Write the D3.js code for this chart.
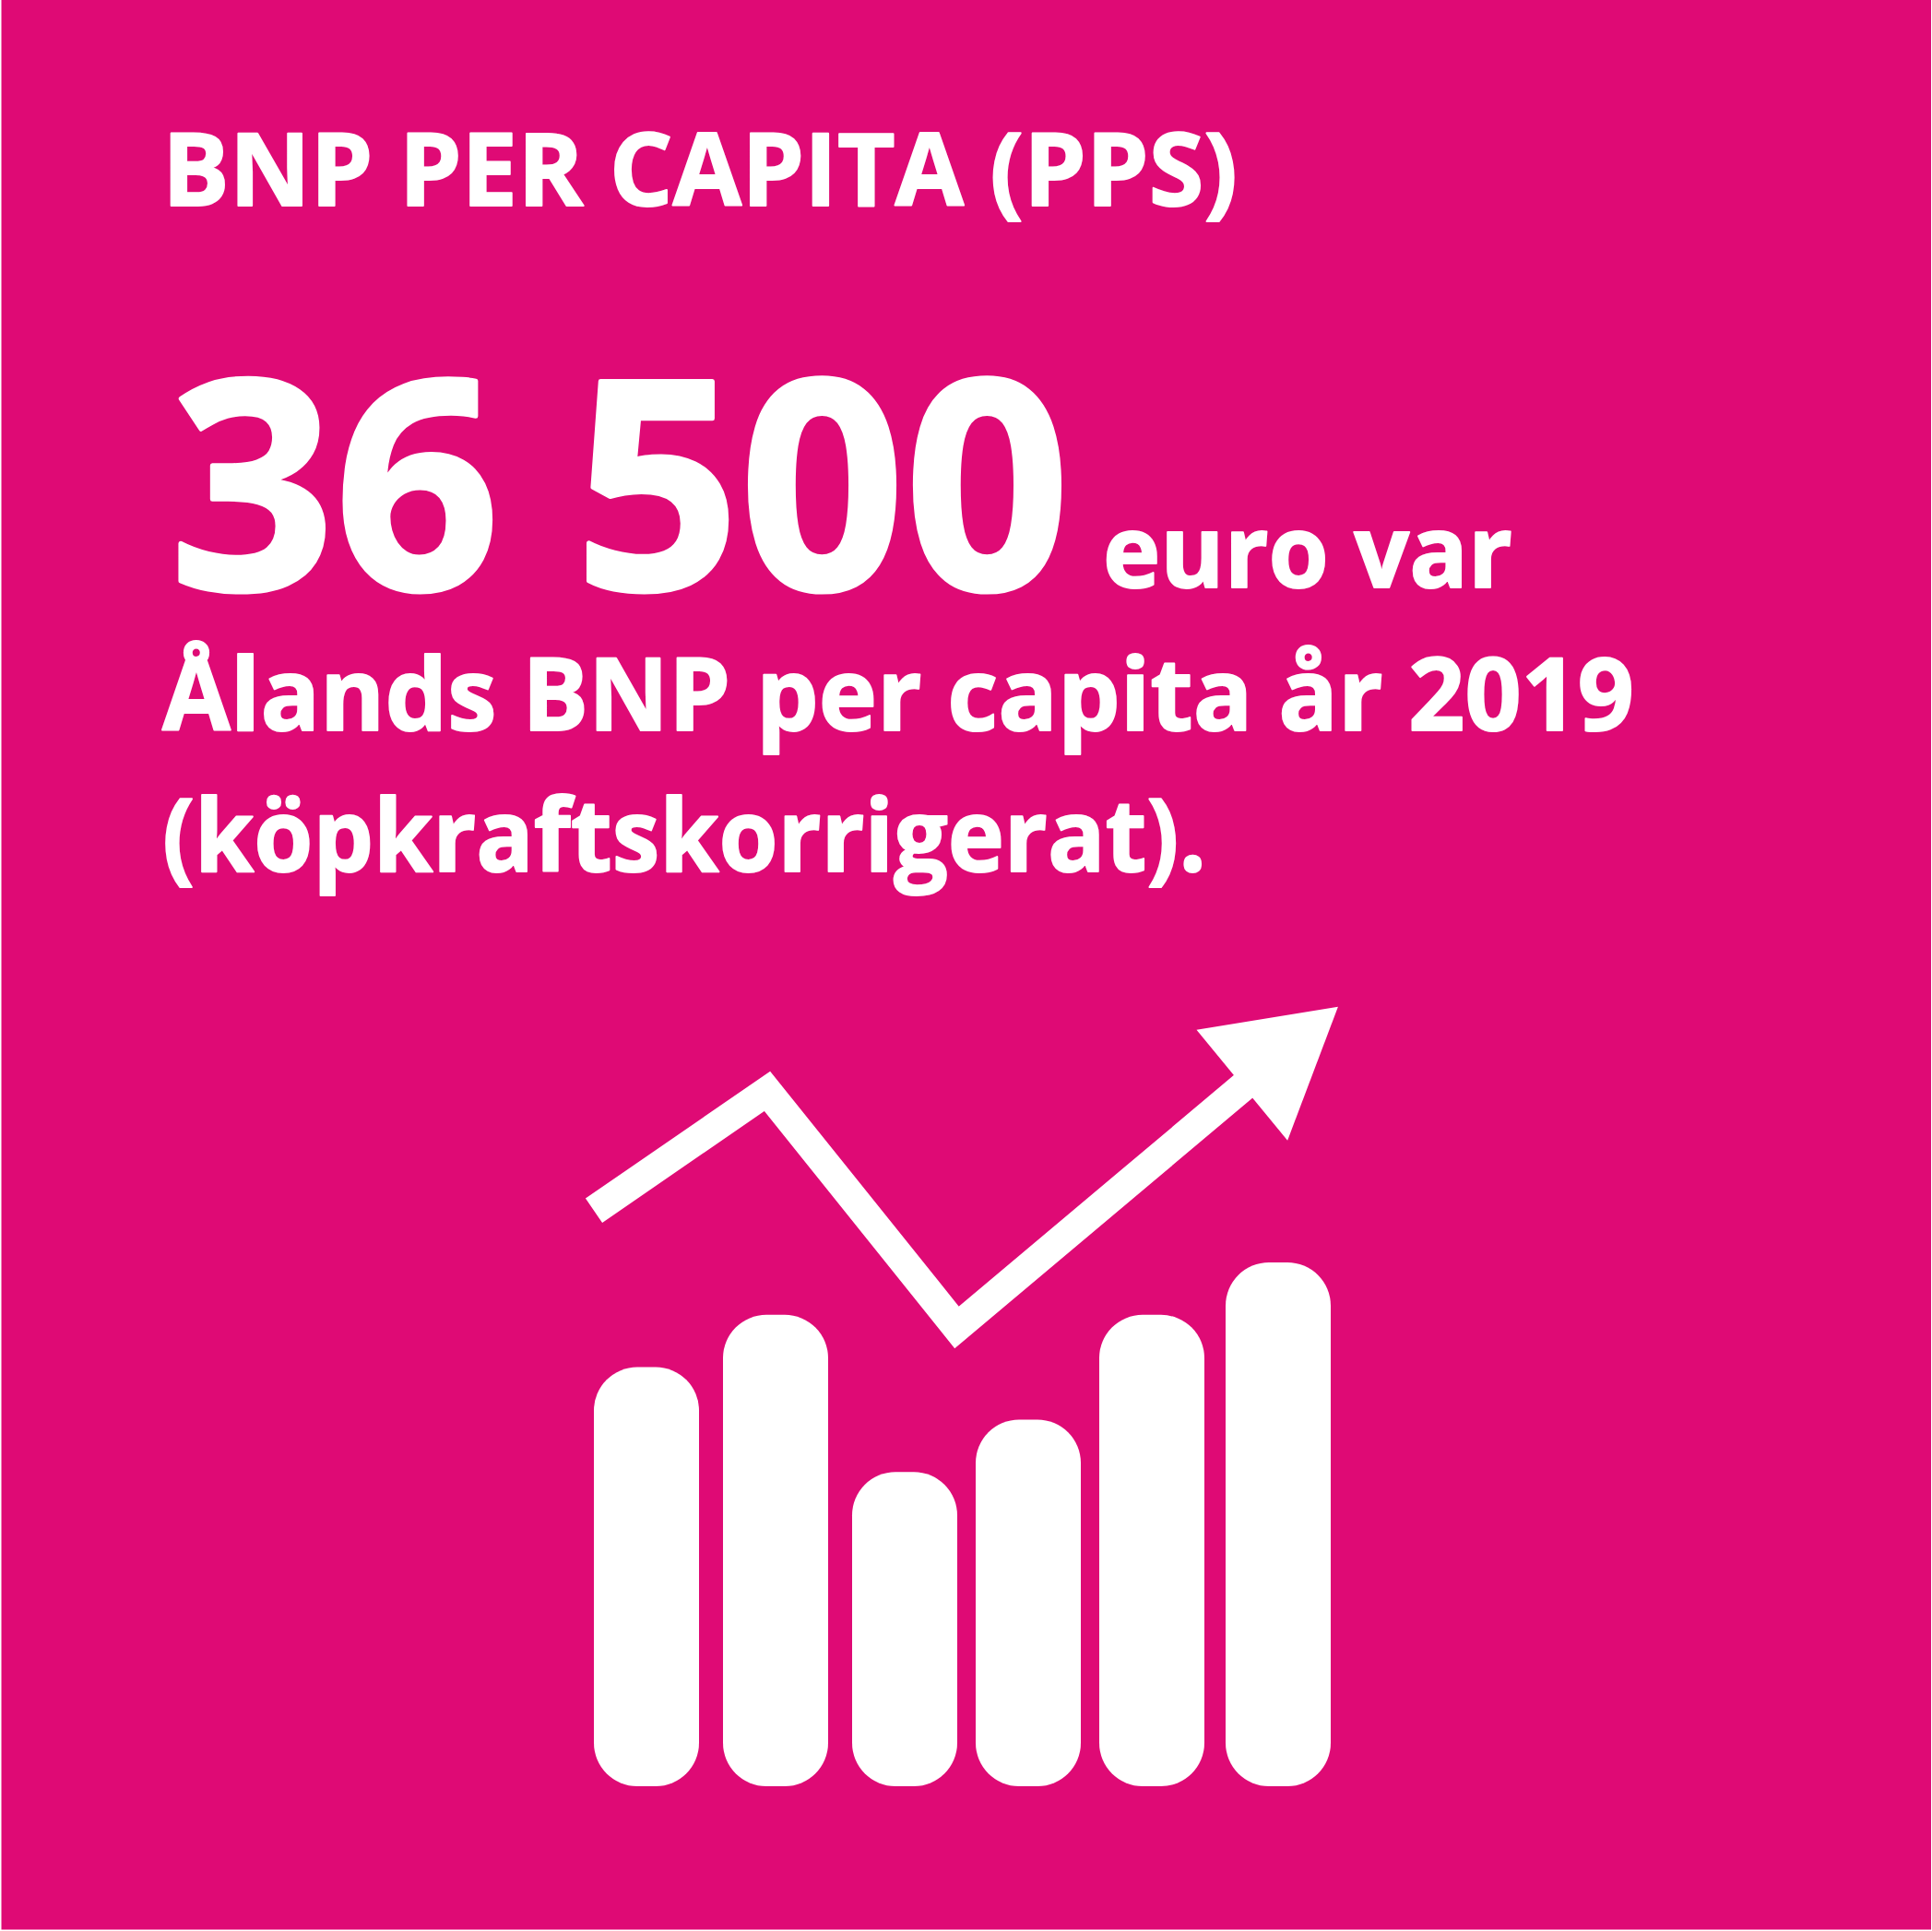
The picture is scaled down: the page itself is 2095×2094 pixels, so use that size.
<!DOCTYPE html>
<html>
<head>
<meta charset="utf-8">
<script src="https://cdn.jsdelivr.net/npm/d3@7"></script>
<style>
  html, body { margin: 0; padding: 0; background: #fff; }
  svg { display: block; }
  text { font-family: "Open Sans", Lato, sans-serif; font-weight: 700; fill: #fff; stroke: #fff; stroke-linejoin: round; }
</style>
</head>
<body>
<script>
const w = 2095;
const h = 2094;
const pink = '#df0a75';

// bars of the icon
const barValues = [8, 9, 6, 7, 9, 10];

// trend line and arrow head, same units as the bars (x = bar number)
const trendX = [0, 1.372, 2.872, 5.2];
const trendY = [10.99, 13.27, 8.76, 13.48];
const arrowX = [4.77, 5.89, 5.49];
const arrowY = [14.44, 14.88, 12.33];

const headline = 'BNP PER CAPITA (PPS)';
const bigNumber = '36 500';
const unit = 'euro var';
const line2 = 'Ålands BNP per capita år 2019';
const line3 = '(köpkraftskorrigerat).';

const svg = d3
  .select('body')
  .append('svg')
  .attr('width', w)
  .attr('height', h);

svg.append('rect')
  .attr('x', 1.5)
  .attr('y', 0)
  .attr('width', w - 2.5)
  .attr('height', h - 1.5)
  .attr('fill', pink);

// text blocks
const labels = [
  { t: headline, x: 176, y: 223, size: 110, len: 1166, sw: 2 },
  { t: bigNumber, x: 184, y: 639, size: 316, len: 976, sw: 5 },
  { t: unit, x: 1196, y: 637, size: 110, len: 444, sw: 2 },
  { t: line2, x: 176, y: 792, size: 110, len: 1596, sw: 2 },
  { t: line3, x: 176, y: 945, size: 110, len: 1132, sw: 2 }
];

svg.selectAll('text.label')
  .data(labels)
  .join('text')
  .attr('class', 'label')
  .attr('x', d => d.x)
  .attr('y', d => d.y)
  .attr('font-size', d => d.size)
  .attr('stroke-width', d => d.sw)
  .attr('textLength', d => d.len)
  .attr('lengthAdjust', 'spacingAndGlyphs')
  .text(d => d.t);

// scales
const x = d3.scaleLinear().domain([0, 2, 4, 5]).range([644, 924, 1192, 1329]);
const xTrend = d3.scaleLinear().domain([0, 5]).range([644, 1329]);
const y = d3.scaleLinear().domain([0, 10]).range([1937, 1369]);
const barW = 114;

// rounded bars
svg.selectAll('rect.bar')
  .data(barValues)
  .join('rect')
  .attr('class', 'bar')
  .attr('x', (d, i) => x(i))
  .attr('y', d => y(d))
  .attr('width', barW)
  .attr('height', d => y(0) - y(d))
  .attr('rx', 47)
  .attr('ry', 47)
  .attr('fill', '#fff');

// trend line
const line = d3.line()
  .x(d => xTrend(d[0]))
  .y(d => y(d[1]));

svg.append('path')
  .attr('d', line(d3.zip(trendX, trendY)))
  .attr('fill', 'none')
  .attr('stroke', '#fff')
  .attr('stroke-width', 32)
  .attr('stroke-linejoin', 'miter');

svg.append('path')
  .attr('d', line(d3.zip(arrowX, arrowY)) + 'Z')
  .attr('fill', '#fff');
</script>
</body>
</html>
